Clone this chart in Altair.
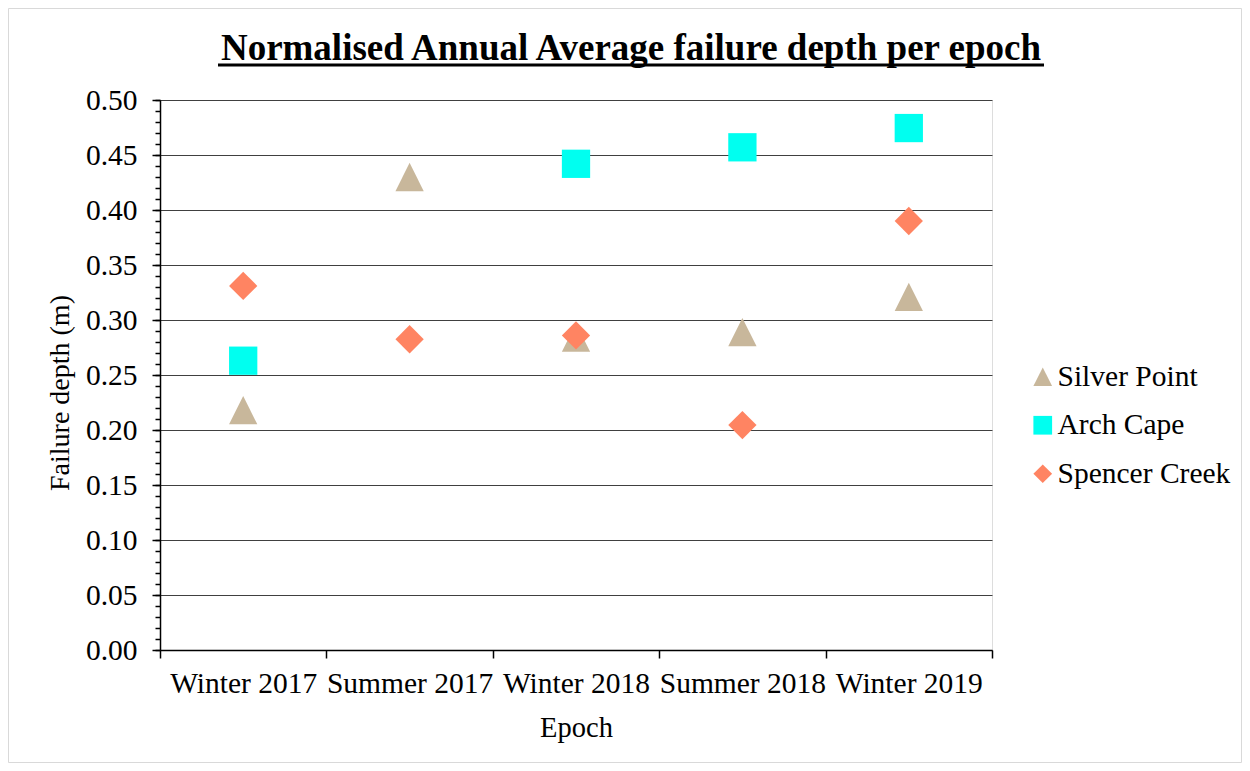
import altair as alt
import pandas as pd

# ---- data ----
epochs = ["Winter 2017", "Summer 2017", "Winter 2018", "Summer 2018", "Winter 2019"]
sites = ["Silver Point", "Arch Cape", "Spencer Creek"]
silver_point = [0.218, 0.430, 0.284, 0.289, 0.321]
arch_cape = [0.263, None, 0.442, 0.457, 0.4745]
spencer_creek = [0.331, 0.2825, 0.286, 0.2045, 0.390]
y_major = [0.00, 0.05, 0.10, 0.15, 0.20, 0.25, 0.30, 0.35, 0.40, 0.45, 0.50]
y_minor = [i / 100 for i in range(51)]
colors = ["#C8B79B", "#00FFF0", "#FF8462"]
shapes = ["M0,-1L1,1L-1,1Z", "square", "diamond"]
title_text = "Normalised Annual Average failure depth per epoch"
x_title = "Epoch"
y_title = "Failure depth (m)"

rows = []
for site, vals in zip(sites, [silver_point, arch_cape, spencer_creek]):
    for ep, v in zip(epochs, vals):
        if v is not None:
            rows.append({"Site": site, "Epoch": ep, "Value": v})
df = pd.DataFrame(rows)
one = pd.DataFrame({"k": [0]})

FONT = "Liberation Serif"
LBL = 29.5

y_scale = alt.Scale(domain=[0, 0.5], nice=False, zero=True)
x_scale = alt.Scale(type="band", domain=epochs, paddingInner=0, paddingOuter=0)

legend = alt.Legend(
    title=None, orient="none", legendX=868, legendY=262, symbolSize=350,
    labelFont=FONT, labelFontSize=LBL, labelColor="black", labelOffset=0,
    labelLimit=300, rowPadding=17.5, padding=0, symbolStrokeWidth=0, symbolOpacity=1,
)

points = alt.Chart(df).mark_point(filled=True, size=800, opacity=1, strokeWidth=0).encode(
    x=alt.X("Epoch:N", sort=epochs, scale=x_scale,
            axis=alt.Axis(title=x_title, tickBand="extent", labelAngle=0, grid=False,
                          domainColor="black", domainWidth=1.5, tickColor="black",
                          tickWidth=1.5, tickSize=8, labelLimit=300,
                          labelFont=FONT, labelFontSize=LBL, labelColor="black",
                          labelBaseline="alphabetic", labelPadding=34,
                          titleFont=FONT, titleFontSize=28.5, titleFontWeight="normal",
                          titleColor="black", titleBaseline="alphabetic", titleY=86)),
    y=alt.Y("Value:Q", scale=y_scale,
            axis=alt.Axis(values=y_major, format=".2f", title=y_title, orient="left",
                          grid=True, gridColor="#404040", gridWidth=1,
                          domainColor="black", domainWidth=1.5, tickColor="black",
                          tickWidth=1.5, tickSize=8,
                          labelFont=FONT, labelFontSize=LBL, labelColor="black",
                          labelPadding=15,
                          titleFont=FONT, titleFontSize=28, titleFontWeight="normal",
                          titleColor="black", titleAngle=270, titleBaseline="alphabetic",
                          titleX=-92, titleY=292.5)),
    color=alt.Color("Site:N", scale=alt.Scale(domain=sites, range=colors), legend=legend),
    shape=alt.Shape("Site:N", scale=alt.Scale(domain=sites, range=shapes), legend=legend),
)

minor = alt.Chart(df).mark_point(opacity=0).encode(
    y=alt.Y("Value:Q", scale=y_scale,
            axis=alt.Axis(values=y_minor, labels=False, grid=False, domain=False,
                          ticks=True, tickSize=5, tickColor="black", tickWidth=1.5,
                          title=None, orient="left")),
)

frame = alt.Chart(one).mark_rect(fill="transparent", stroke="#D9D9D9", strokeWidth=1).encode(
    x=alt.value(-151.5), x2=alt.value(1081.5), y=alt.value(-91.5), y2=alt.value(662.5)
)

title = alt.Chart(one).mark_text(
    font=FONT, fontSize=37, fontWeight="bold", color="black",
    align="center", baseline="alphabetic",
).encode(x=alt.value(471), y=alt.value(-40.5), text=alt.value(title_text))

underline = alt.Chart(one).mark_rule(color="black", strokeWidth=3).encode(
    x=alt.value(58), x2=alt.value(884), y=alt.value(-35)
)

chart = alt.layer(frame, minor, points, title, underline).resolve_axis(
    y="independent"
).properties(
    width=832, height=550,
    autosize=alt.AutoSizeParams(type="none"),
    padding={"left": 152, "top": 92, "right": 250, "bottom": 113},
).configure_view(stroke=None).configure(background="white")

chart.save("out.html", embed_options={"renderer": "svg", "actions": False})
